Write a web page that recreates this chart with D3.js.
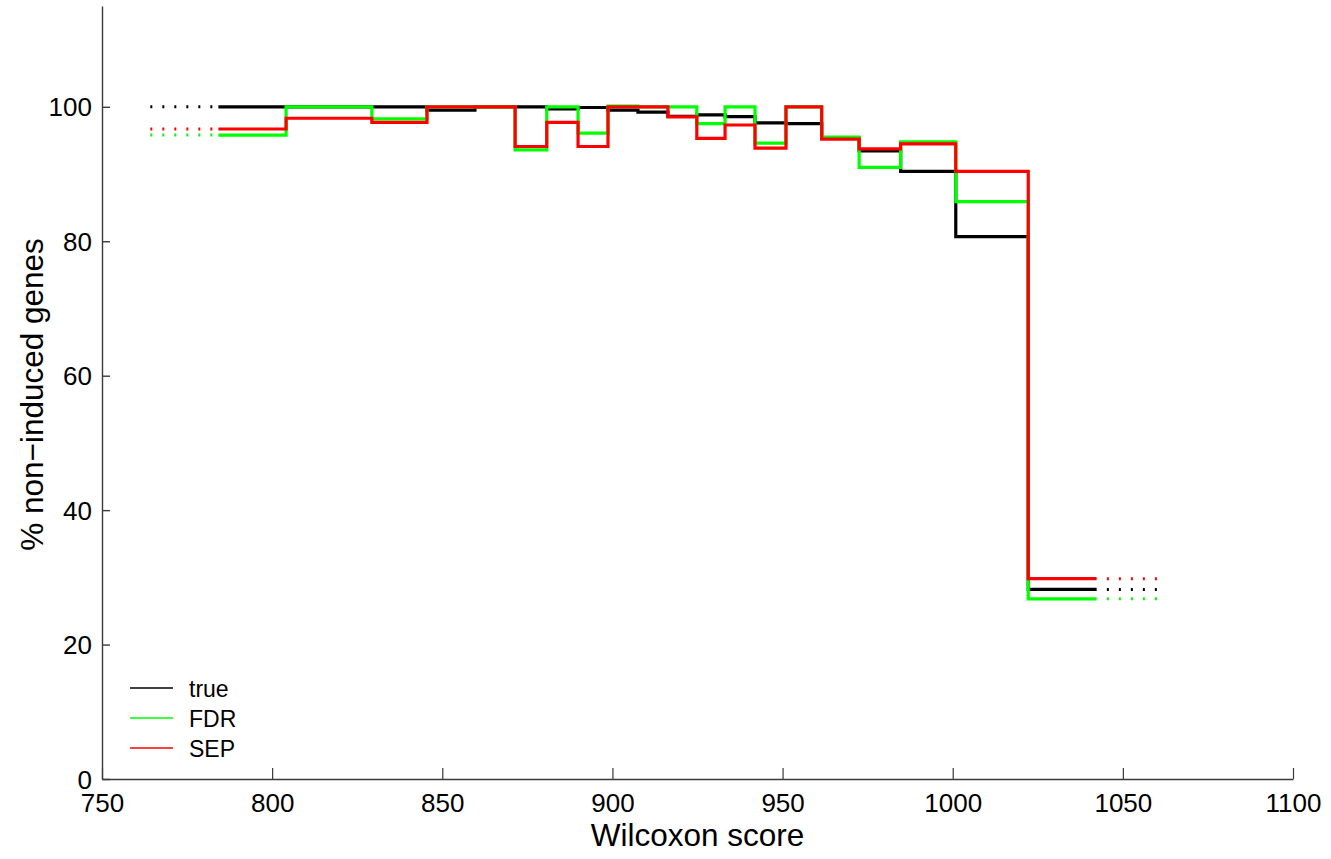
<!DOCTYPE html>
<html>
<head>
<meta charset="utf-8">
<script src="https://cdn.jsdelivr.net/npm/d3@7"></script>
<style>
  html, body { margin: 0; padding: 0; background: #fff; }
  svg { display: block; font-family: "Liberation Sans", Arial, Helvetica, sans-serif; }
</style>
</head>
<body>
<svg id="chart" width="1331" height="859"></svg>
<script>
// Bin edges of the Wilcoxon score (20 bins)
const binEdges = [784.2, 804.1, 829.3, 845.5, 859.6, 871.4, 880.7, 889.9, 898.7, 907.5,
                  916.3, 924.8, 933.1, 941.9, 951.0, 961.5, 972.5, 984.7, 1000.9, 1022.2, 1042.3];

// % non-induced genes per bin
const trueValues = [100, 100, 100, 99.5, 100, 100, 99.7, 99.9, 99.5, 99.2,
                    98.6, 98.8, 98.55, 97.6, 97.5, 95.3, 93.45, 90.4, 80.7, 28.2];
const fdrValues  = [95.8, 100, 98.2, 100, 100, 93.6, 100, 96.1, 100.1, 100,
                    100, 97.5, 100, 94.6, 100, 95.5, 91.0, 94.8, 85.9, 26.8];
const sepValues  = [96.7, 98.3, 97.7, 100, 100, 94.1, 97.7, 94.1, 100, 100,
                    98.5, 95.3, 97.3, 93.85, 100, 95.2, 93.75, 94.5, 90.4, 29.8];

// Dotted continuations beyond the outermost bins
const tailLeft = [764.2, 783.4];
const tailRight = [1045.3, 1061];

const xTicks = [750, 800, 850, 900, 950, 1000, 1050, 1100];
const yTicks = [0, 20, 40, 60, 80, 100];

const seriesList = [
  { name: "true", values: trueValues, color: "#000000" },
  { name: "FDR",  values: fdrValues,  color: "#00ff00" },
  { name: "SEP",  values: sepValues,  color: "#ff0000" }
];

const svg = d3.select("#chart");
const x = d3.scaleLinear().domain([750, 1100]).range([102, 1293]);
const y = d3.scaleLinear().domain([0, 115]).range([779, 6]);

const axisColor = "#3a3a3a";

// x axis with inward ticks
const xAxis = svg.append("g")
  .attr("transform", `translate(0,${y(0)})`)
  .call(d3.axisBottom(x).tickValues(xTicks).tickSizeInner(-11).tickSizeOuter(0).tickPadding(0));
xAxis.select(".domain").attr("stroke", axisColor).attr("stroke-width", 1.4);
xAxis.selectAll(".tick line").attr("stroke", axisColor).attr("stroke-width", 1.2);
xAxis.selectAll(".tick text").remove();
xAxis.selectAll(".tick").append("text")
  .attr("y", 33).attr("text-anchor", "middle")
  .attr("fill", "#000").attr("font-size", 26)
  .text(d => d);

// y axis with inward ticks
const yAxis = svg.append("g")
  .attr("transform", `translate(${x(750)},0)`)
  .call(d3.axisLeft(y).tickValues(yTicks).tickSizeInner(-8).tickSizeOuter(0));
yAxis.select(".domain").attr("stroke", axisColor).attr("stroke-width", 1.4);
yAxis.selectAll(".tick line").attr("stroke", axisColor).attr("stroke-width", 1.4);
yAxis.selectAll(".tick text").remove();
yAxis.selectAll(".tick").append("text")
  .attr("x", -10).attr("y", 9).attr("text-anchor", "end")
  .attr("fill", "#000").attr("font-size", 26)
  .text(d => d);

// axis titles
svg.append("text")
  .attr("x", (x(750) + x(1100)) / 2).attr("y", 846)
  .attr("text-anchor", "middle").attr("font-size", 31.5).attr("fill", "#000")
  .text("Wilcoxon score");
svg.append("text")
  .attr("transform", `translate(43,${(y(0) + y(115)) / 2 + 2}) rotate(-90)`)
  .attr("text-anchor", "middle").attr("font-size", 31.5).attr("fill", "#000")
  .text("% non\u2212induced genes");

// step lines
const stepLine = d3.line()
  .x(d => x(d[0]))
  .y(d => y(d[1]))
  .curve(d3.curveStepAfter);

const plot = svg.append("g");
seriesList.forEach(s => {
  const pts = s.values.map((v, i) => [binEdges[i], v]);
  pts.push([binEdges[binEdges.length - 1], s.values[s.values.length - 1]]);

  plot.append("path")
    .datum(pts)
    .attr("fill", "none")
    .attr("stroke", s.color)
    .attr("stroke-width", 3.2)
    .attr("d", stepLine);

  // dotted tails
  const first = s.values[0], last = s.values[s.values.length - 1];
  [[tailLeft, first], [tailRight, last]].forEach(([span, v]) => {
    plot.append("line")
      .attr("x1", x(span[0])).attr("x2", x(span[1]))
      .attr("y1", y(v)).attr("y2", y(v))
      .attr("stroke", s.color)
      .attr("stroke-width", 3)
      .attr("stroke-dasharray", "2,10");
  });
});

// legend
const legend = svg.append("g");
seriesList.forEach((s, i) => {
  const ly = 688 + i * 30;
  legend.append("line")
    .attr("x1", 130).attr("x2", 173)
    .attr("y1", ly).attr("y2", ly)
    .attr("stroke", s.color).attr("stroke-width", 1.5);
  legend.append("text")
    .attr("x", 189).attr("y", ly + 8.5)
    .attr("font-size", 23).attr("fill", "#000")
    .text(s.name);
});
</script>
</body>
</html>
